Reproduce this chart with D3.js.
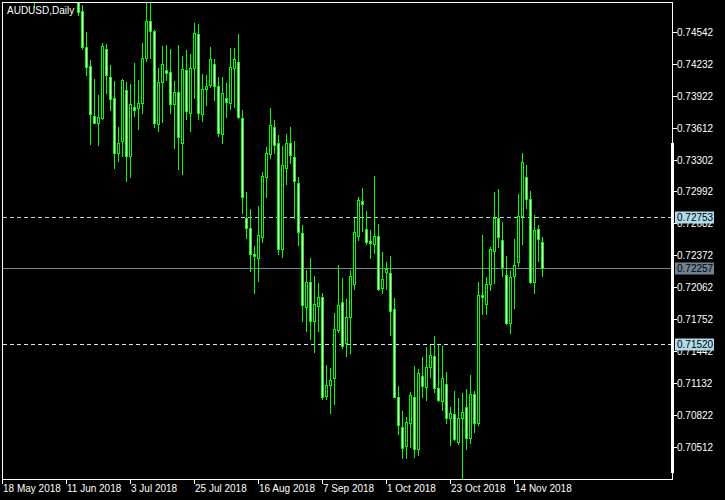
<!DOCTYPE html>
<html><head><meta charset="utf-8">
<script src="https://cdn.jsdelivr.net/npm/d3@7"></script>
<style>html,body{margin:0;padding:0;background:#000;}svg{display:block}</style>
</head><body>
<script>
const title = "AUDUSD,Daily";
const firstBar = 8;
const opens = [0.75120,null,null,null,null,null,null,null,null,null,null,
0.74870,0.74749,0.74397,0.74215,0.73730,0.73665,0.73707,0.74380,0.74105,0.73902,
0.73373,0.73490,0.73982,0.73344,0.73820,0.73810,0.73853,0.74296,0.74649,0.74555,
0.73649,0.74057,0.74176,0.74154,0.73843,0.73960,0.73465,0.74173,0.73762,0.74193,
0.74526,0.73746,0.73989,0.74034,0.74232,0.74018,0.73558,0.73902,0.73859,0.74193,
0.74251,0.73707,0.72736,0.72645,0.72387,0.72354,0.72558,0.73140,0.73358,0.73626,
0.73470,0.72435,0.73222,0.73470,0.73334,0.73076,0.72591,0.71878,0.72115,0.71742,
0.71888,0.71969,0.71014,0.71118,0.71189,0.71652,0.71921,0.71523,0.71775,0.72095,
0.72567,0.72904,0.72630,0.72516,0.72484,0.72564,0.72057,0.72212,0.72202,0.71853,
0.70998,0.70707,0.70525,0.70752,0.71004,0.70493,0.71208,0.71101,0.71290,0.71402,
0.71092,0.70965,0.71124,0.70800,0.70833,0.70567,0.70794,0.70901,0.70600,0.71027,
0.70752,0.71992,0.71901,0.72095,0.72422,0.72736,0.72526,0.72186,0.71717,0.72179,
0.72315,0.72759,0.73134,0.72921,0.72121,0.72630,0.72503];
const highs = [0.75200,null,null,null,null,null,null,null,null,null,null,
0.74900,0.74807,0.74545,0.74273,0.74089,0.73934,0.74441,0.74429,0.74225,0.74070,
0.73623,0.74089,0.74057,0.74040,0.74247,0.74079,0.74441,0.74880,0.74880,0.74565,
0.74193,0.74412,0.74419,0.74377,0.74070,0.74419,0.74312,0.74371,0.74332,0.74633,
0.74623,0.74137,0.74128,0.74400,0.74280,0.74105,0.74108,0.74050,0.74387,0.74387,
0.74526,0.73788,0.72992,0.72824,0.72467,0.72856,0.73189,0.73432,0.73804,0.73691,
0.73545,0.73438,0.73555,0.73623,0.73487,0.73140,0.72671,0.72234,0.72351,0.72176,
0.72111,0.72014,0.71312,0.71286,0.71814,0.72283,0.72154,0.71950,0.72234,0.72736,
0.72946,0.73028,0.72807,0.72623,0.73147,0.72681,0.72406,0.72309,0.72370,0.71965,
0.71108,0.70868,0.70810,0.71053,0.71302,0.71276,0.71387,0.71484,0.71506,0.71594,
0.71506,0.71496,0.71244,0.70901,0.71059,0.70988,0.71037,0.71079,0.71215,0.71059,
0.72115,0.72574,0.72169,0.72455,0.72995,0.73021,0.72703,0.72370,0.72234,0.72535,
0.72972,0.73367,0.73254,0.73001,0.72769,0.72671,0.72558];
const lows = [0.74791,null,null,null,null,null,null,null,null,null,null,
0.74713,0.74380,0.74128,0.73458,0.73659,0.73448,0.73701,0.73956,0.73788,0.73222,
0.73296,0.73341,0.73101,0.73140,0.73730,0.73603,0.73756,0.74267,0.74290,0.73626,
0.73587,0.73674,0.74079,0.73756,0.73422,0.73215,0.73169,0.73703,0.73587,0.73907,
0.73701,0.73684,0.73839,0.74011,0.73885,0.73536,0.73465,0.73723,0.73798,0.73817,
0.73712,0.72791,0.72548,0.72228,0.72014,0.72130,0.72509,0.72946,0.73319,0.73367,
0.72390,0.72363,0.73066,0.73270,0.72736,0.72477,0.71742,0.71645,0.71561,0.71435,
0.71645,0.70979,0.70979,0.70843,0.70930,0.71635,0.71474,0.71399,0.71431,0.72050,
0.72526,0.72616,0.72487,0.72348,0.72396,0.72040,0.72014,0.72050,0.71603,0.71000,
0.70642,0.70406,0.70406,0.70519,0.70421,0.70438,0.71004,0.70972,0.71192,0.71053,
0.70965,0.70875,0.70752,0.70535,0.70584,0.70545,0.70200,0.70493,0.70557,0.70664,
0.70729,0.71807,0.71807,0.72040,0.72105,0.72461,0.72176,0.71712,0.71626,0.71868,
0.72273,0.72487,0.72833,0.72105,0.72014,0.72325,0.72179];
const closes = [0.75000,null,null,null,null,null,null,null,null,null,null,
0.74742,0.74403,0.74208,0.73752,0.73665,0.73723,0.74409,0.74128,0.73895,0.73367,
0.73465,0.74079,0.73344,0.73846,0.73788,0.73856,0.74290,0.74649,0.74558,0.73659,
0.74057,0.74232,0.74150,0.73843,0.73960,0.73523,0.74183,0.73775,0.74193,0.74533,
0.73756,0.73989,0.74018,0.74280,0.74024,0.73568,0.73950,0.73863,0.74203,0.74280,
0.73717,0.72946,0.72645,0.72387,0.72373,0.72574,0.73147,0.73367,0.73642,0.73448,
0.72435,0.73251,0.73470,0.73348,0.73096,0.72600,0.71894,0.72121,0.71742,0.71901,
0.71969,0.71004,0.71118,0.71166,0.71659,0.71894,0.71499,0.71775,0.72176,0.72600,
0.72914,0.72872,0.72509,0.72494,0.72564,0.72050,0.72144,0.72244,0.71839,0.71004,
0.70729,0.70503,0.70756,0.71018,0.70493,0.71231,0.71111,0.71295,0.71406,0.71086,
0.70972,0.71183,0.70800,0.70843,0.70590,0.70794,0.70858,0.70600,0.71027,0.70752,
0.71992,0.71969,0.72095,0.72438,0.72736,0.72558,0.72260,0.71717,0.72169,0.72283,
0.72759,0.73286,0.72921,0.72121,0.72623,0.72533,0.72257];
const dateLabels = ["18 May 2018","11 Jun 2018","3 Jul 2018","25 Jul 2018","16 Aug 2018","7 Sep 2018","1 Oct 2018","23 Oct 2018","14 Nov 2018"];
const dateTickBars = [0,16,32,48,64,80,96,112,128];
const priceTicks = [0.74542,0.74232,0.73922,0.73612,0.73302,0.72992,0.72682,0.72372,0.72062,0.71752,0.71442,0.71132,0.70822,0.70512];
const levelValues = [0.72753,0.72257,0.71520];
const levelStyles = ["dash","solid","dash"];

const W = 725, H = 500;
const L = 2, T = 2, R = 672, B = 479;
const svg = d3.select("body").append("svg").attr("width", W).attr("height", H)
  .style("background", "#000");
const x = d3.scaleLinear().domain([0, 1]).range([2.5, 6.5]);
const y = d3.scaleLinear().domain([0.70512, 0.74542]).range([447.5, 32.3]);
const FONT = "'Liberation Sans', Arial, sans-serif";

svg.append("defs").append("clipPath").attr("id", "plot")
  .append("rect").attr("x", L + 1).attr("y", T + 1).attr("width", R - L - 1).attr("height", B - T - 1);

// level lines (behind candles)
const lvlLine = svg.append("g");
levelValues.forEach((v, k) => {
  const yy = Math.round(y(v)) + 0.5;
  lvlLine.append("line").attr("x1", L + 1).attr("x2", R).attr("y1", yy).attr("y2", yy)
    .attr("stroke", levelStyles[k] === "solid" ? "#778899" : (k === 0 ? "#add8e6" : "#d6ebf2"))
    .attr("stroke-width", 1)
    .attr("stroke-dasharray", levelStyles[k] === "solid" ? null : "4,3");
});

const bars = opens.map((o, k) => ({i: firstBar + k, o, h: highs[k], l: lows[k], c: closes[k]}))
  .filter(d => d.o != null);

const g = svg.append("g").attr("clip-path", "url(#plot)");
bars.forEach(d => {
  const cx = Math.floor(x(d.i));
  g.append("line").attr("x1", cx + 0.5).attr("x2", cx + 0.5)
    .attr("y1", Math.round(y(d.h))).attr("y2", Math.round(y(d.l)) + 1)
    .attr("stroke", "#00ff00").attr("stroke-width", 1);
  const top = Math.round(y(Math.max(d.o, d.c)));
  const bot = Math.round(y(Math.min(d.o, d.c)));
  g.append("rect").attr("x", cx - 0.5).attr("y", top + 0.5)
    .attr("width", 2).attr("height", Math.max(bot - top, 0))
    .attr("fill", d.c < d.o ? "#ffffff" : "#000000")
    .attr("stroke", "#00ff00").attr("stroke-width", 1);
});

// frame
svg.append("rect").attr("x", L + 0.5).attr("y", T + 0.5).attr("width", R - L).attr("height", B - T)
  .attr("fill", "none").attr("stroke", "#ffffff").attr("stroke-width", 1);
// right-edge marker
svg.append("rect").attr("x", 671).attr("y", 143).attr("width", 3).attr("height", 330).attr("fill", "#ffffff");

// price axis
const pa = svg.append("g");
priceTicks.forEach(v => {
  const yy = Math.floor(y(v)) + 0.5;
  pa.append("line").attr("x1", R + 1).attr("x2", R + 5).attr("y1", yy).attr("y2", yy)
    .attr("stroke", "#fff").attr("stroke-width", 1);
  pa.append("text").attr("x", 677).attr("y", yy + 3.5).attr("fill", "#fff")
    .style("font-family", FONT).style("font-size", "10px").text(v.toFixed(5));
});

// level labels
levelValues.forEach((v, k) => {
  const yy = Math.round(y(v)) + 0.5;
  pa.append("rect").attr("x", 675).attr("y", yy - 6).attr("width", 39).attr("height", 12)
    .attr("fill", levelStyles[k] === "solid" ? "#6f8391" : "#b0dcea");
  pa.append("text").attr("x", 677).attr("y", yy + 3.5).attr("fill", "#000")
    .style("font-family", FONT).style("font-size", "10px").text(v.toFixed(5));
});

// time axis
const ta = svg.append("g");
dateTickBars.forEach((b, k) => {
  const xx = Math.floor(x(b)) + 0.5;
  ta.append("line").attr("x1", xx).attr("x2", xx).attr("y1", B).attr("y2", B + 5)
    .attr("stroke", "#fff").attr("stroke-width", 1);
  ta.append("text").attr("x", xx + 0.5).attr("y", 492).attr("fill", "#fff")
    .style("font-family", FONT).style("font-size", "10px").text(dateLabels[k]);
});

// title
svg.append("text").attr("x", 7).attr("y", 13.5).attr("fill", "#fff")
  .style("font-family", FONT).style("font-size", "10px").text(title);
</script>
</body></html>
